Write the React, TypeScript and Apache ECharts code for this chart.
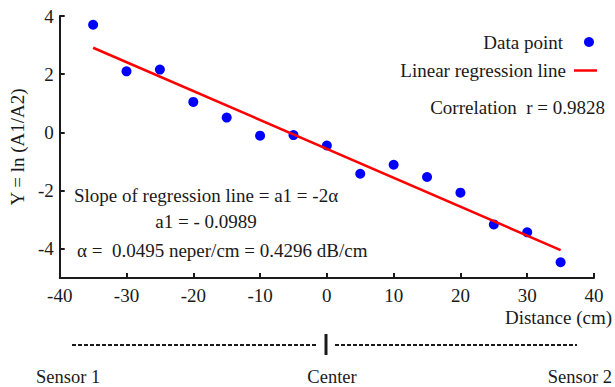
import React, { useEffect, useRef } from "react";
import * as echarts from "echarts";

const xValues = [-35, -30, -25, -20, -15, -10, -5, 0, 5, 10, 15, 20, 25, 30, 35];
const yValues = [3.7, 2.1, 2.16, 1.05, 0.51, -0.11, -0.09, -0.45, -1.42, -1.11, -1.53, -2.07, -3.16, -3.43, -4.46];
const fitX = [-35, 35];
const fitY = [2.91, -4.04];
const yTicks = [-4, -2, 0, 2, 4];
const xRange = [-40, 40];
const yRange = [-5, 4];
const legendNames = ["Data point", "Linear regression line"];

const FONT = "'Liberation Serif', 'Times New Roman', serif";
const INK = "#1a1a1a";
const BLUE = "#0000ff";
const RED = "#ff0000";

export default function App() {
  const ref = useRef<HTMLDivElement>(null);
  useEffect(() => {
    document.body.style.margin = "0";
    const chart = echarts.init(ref.current!, null, { renderer: "svg" });
    const txt = (text: string, x: number, y: number, align: string, size = 19) => ({
      type: "text",
      x,
      y,
      style: {
        text,
        fill: INK,
        font: `${size}px ${FONT}`,
        textAlign: align,
        align,
        textVerticalAlign: "middle",
        verticalAlign: "middle",
      },
    });
    chart.setOption({
      animation: false,
      textStyle: { fontFamily: FONT, color: INK },
      grid: { left: 57, right: 21, top: 16, bottom: 109 },
      xAxis: {
        type: "value",
        min: xRange[0],
        max: xRange[1],
        interval: 10,
        name: "Distance (cm)",
        nameLocation: "end",
        nameGap: 18,
        nameTextStyle: { fontSize: 19, color: INK, align: "right", verticalAlign: "top", padding: [30, 0, 0, 0] },
        axisLine: { onZero: false, lineStyle: { color: INK, width: 2 } },
        axisTick: { inside: true, length: 5, lineStyle: { color: INK, width: 2 } },
        axisLabel: { fontSize: 19, color: INK, margin: 8 },
        splitLine: { show: false },
      },
      yAxis: {
        type: "value",
        min: yRange[0],
        max: yRange[1],
        name: "Y = ln (A1/A2)",
        nameLocation: "middle",
        nameGap: 28,
        nameTextStyle: { fontSize: 19, color: INK },
        axisLine: { show: true, onZero: false, lineStyle: { color: INK, width: 2 } },
        axisTick: { show: true, inside: true, length: 5, customValues: yTicks, lineStyle: { color: INK, width: 2 } },
        axisLabel: { fontSize: 19, color: INK, margin: 6, customValues: yTicks },
        splitLine: { show: false },
      },
      series: [
        {
          name: legendNames[0],
          type: "scatter",
          symbolSize: 10,
          itemStyle: { color: BLUE, opacity: 1 },
          data: xValues.map((x, i) => [x, yValues[i]]),
        },
        {
          name: legendNames[1],
          type: "line",
          symbol: "none",
          lineStyle: { color: RED, width: 2.5 },
          data: fitX.map((x, i) => [x, fitY[i]]),
        },
      ],
      graphic: [
        txt(legendNames[0], 563, 42, "right"),
        { type: "circle", shape: { cx: 589, cy: 42, r: 5 }, style: { fill: BLUE } },
        txt(legendNames[1], 566, 70, "right"),
        { type: "line", shape: { x1: 574, y1: 70.5, x2: 597, y2: 70.5 }, style: { stroke: RED, lineWidth: 2.5 } },
        txt("Correlation  r = 0.9828", 605, 107, "right"),
        txt("Slope of regression line = a1 = -2α", 74, 195, "left"),
        txt("a1 = - 0.0989", 206, 221, "center"),
        txt("α =  0.0495 neper/cm = 0.4296 dB/cm", 77, 250, "left"),
        {
          type: "line",
          shape: { x1: 72, y1: 345, x2: 318, y2: 345 },
          style: { stroke: INK, lineWidth: 2, lineDash: [4, 2] },
        },
        {
          type: "line",
          shape: { x1: 335, y1: 345, x2: 577, y2: 345 },
          style: { stroke: INK, lineWidth: 2, lineDash: [4, 2] },
        },
        { type: "rect", shape: { x: 324.5, y: 334, width: 3, height: 21 }, style: { fill: INK } },
        txt("Sensor 1", 36, 377, "left", 18.5),
        txt("Center", 332, 377, "center", 18.5),
        txt("Sensor 2", 612, 377, "right", 18.5),
      ],
    });
    return () => chart.dispose();
  }, []);
  return <div ref={ref} style={{ width: 615, height: 387 }} />;
}
